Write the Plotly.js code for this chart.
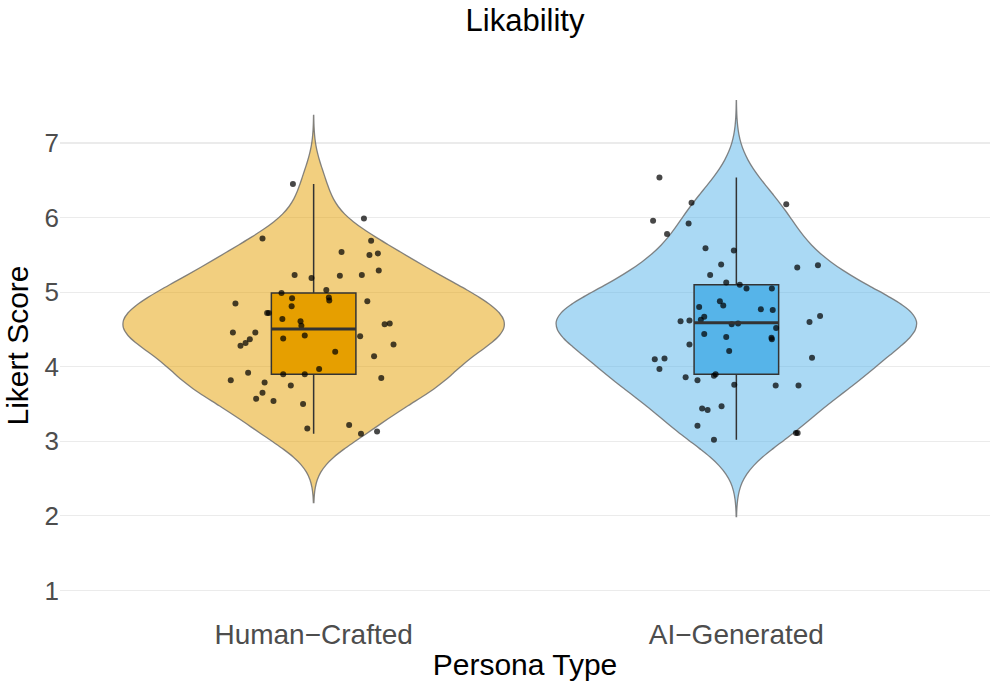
<!DOCTYPE html>
<html>
<head>
<meta charset="utf-8">
<script src="https://cdn.plot.ly/plotly-3.0.1.min.js"></script>
<style>html,body{margin:0;padding:0;background:#fff;}#chart{width:997px;height:687px;}</style>
</head>
<body>
<div id="chart"></div>
<script>
// Categories and tick labels
const categories = ["Human\u2212Crafted", "AI\u2212Generated"];
const yTicks = [1, 2, 3, 4, 5, 6, 7];

// Likert scores
const humanScores = [6.45, 5.99, 5.72, 5.69, 5.54, 5.50, 5.52, 5.29, 5.23, 5.19, 5.22, 5.23, 5.03, 4.99, 4.93, 4.92, 4.89, 4.88, 4.85, 4.81,
  4.72, 4.72, 4.64, 4.61, 4.55, 4.57, 4.58, 4.46, 4.46, 4.37, 4.32, 4.28, 4.42, 4.38, 4.41, 4.30, 4.20, 4.14, 3.97, 3.90,
  3.90, 3.92, 3.82, 3.79, 3.85, 3.75, 3.65, 3.57, 3.54, 3.50, 3.22, 3.17, 3.13, 3.10];
// Horizontal jitter of each point (category units)
const humanJitter = [-0.049, 0.119, -0.121, 0.136, 0.066, 0.132, 0.152, 0.154, -0.045, -0.005, 0.062, 0.114, 0.030, -0.076, 0.036, -0.051, 0.037, 0.127, -0.185, -0.052,
  -0.110, -0.106, -0.074, -0.031, -0.029, 0.168, 0.180, -0.191, -0.138, -0.151, -0.161, -0.173, -0.021, -0.072, 0.110, 0.189, 0.051, 0.143, 0.013, -0.072,
  -0.021, -0.155, -0.196, -0.116, 0.160, -0.054, -0.121, -0.136, -0.095, -0.025, 0.084, -0.015, 0.150, 0.112];

const aiScores = [6.54, 6.20, 6.18, 5.96, 5.92, 5.78, 5.59, 5.56, 5.37, 5.33, 5.36, 5.23, 5.13, 5.10, 5.05, 5.05, 4.80, 4.88, 4.82, 4.77,
  4.76, 4.67, 4.63, 4.61, 4.62, 4.57, 4.58, 4.60, 4.68, 4.52, 4.44, 4.40, 4.39, 4.37, 4.30, 4.21, 4.10, 4.11, 4.12, 3.97,
  3.88, 3.90, 3.86, 3.82, 3.76, 3.75, 3.75, 3.47, 3.44, 3.42, 3.21, 3.11, 3.11, 3.02];
const aiJitter = [-0.182, -0.106, 0.118, -0.197, -0.113, -0.164, -0.073, -0.006, -0.036, 0.144, 0.193, -0.062, -0.024, 0.008, 0.024, 0.084, -0.088, -0.039, -0.031, 0.058,
  0.086, -0.076, -0.084, -0.132, -0.111, -0.011, 0.004, 0.173, 0.198, 0.094, -0.076, -0.024, 0.083, 0.084, -0.111, -0.017, -0.193, -0.170, 0.179, -0.182,
  -0.053, -0.049, -0.120, -0.092, -0.005, 0.093, 0.147, -0.035, -0.081, -0.068, -0.092, 0.141, 0.145, -0.053];

const groups = [
  {name: categories[0], pos: 1, y: humanScores, jit: humanJitter, bw: 0.307, vwidth: 0.9,
   violinFill: "rgba(230,159,0,0.5)", boxFill: "#E69F00"},
  {name: categories[1], pos: 2, y: aiScores, jit: aiJitter, bw: 0.343, vwidth: 0.852,
   violinFill: "rgba(86,180,233,0.5)", boxFill: "#56B4E9"}
];

function median(arr) {
  const s = arr.slice().sort((a, b) => a - b);
  const p = (s.length - 1) * 0.5, lo = Math.floor(p), hi = Math.ceil(p);
  return s[lo] + (s[hi] - s[lo]) * (p - lo);
}

const traces = [];
const shapes = [];
groups.forEach(g => {
  const mn = Math.min(...g.y), mx = Math.max(...g.y);
  traces.push({
    type: "violin", x0: g.pos, y: g.y, name: g.name, width: g.vwidth,
    bandwidth: g.bw, spanmode: "manual", span: [mn - 3 * g.bw, mx + 3 * g.bw],
    scalemode: "width", points: false, box: {visible: false}, meanline: {visible: false},
    fillcolor: g.violinFill, line: {color: "rgba(110,110,110,0.85)", width: 1.3},
    hoverinfo: "skip", showlegend: false
  });
  traces.push({
    type: "box", x0: g.pos, y: g.y, name: g.name, width: 0.2, boxpoints: false,
    fillcolor: g.boxFill, line: {color: "#333333", width: 1.5}, whiskerwidth: 0,
    hoverinfo: "skip", showlegend: false
  });
  traces.push({
    type: "scatter", mode: "markers", x: g.jit.map(j => g.pos + j), y: g.y,
    marker: {color: "rgba(0,0,0,0.72)", size: 6}, hoverinfo: "skip", showlegend: false
  });
  const m = median(g.y);
  shapes.push({type: "line", xref: "x", yref: "y", x0: g.pos - 0.1, x1: g.pos + 0.1, y0: m, y1: m,
    line: {color: "#333333", width: 3}});
});

const font = "Liberation Sans, Arial, sans-serif";
const layout = {
  width: 997, height: 687,
  margin: {l: 60, r: 7, t: 76, b: 72, pad: 0},
  paper_bgcolor: "#ffffff", plot_bgcolor: "#ffffff",
  font: {family: font, color: "#000000"},
  violinmode: "overlay", boxmode: "overlay",
  title: {text: "Likability", font: {size: 31, family: font, color: "#000"}, x: 0.5, xref: "paper",
          y: 1 - 20 / 687, yref: "container", yanchor: "middle"},
  xaxis: {
    range: [0.4, 2.6], tickvals: [1, 2], ticktext: categories,
    showgrid: false, zeroline: false, showline: false, ticks: "",
    tickfont: {size: 28, color: "#4D4D4D", family: font},
    title: {text: "Persona Type", font: {size: 30, color: "#000", family: font}, standoff: 4}
  },
  yaxis: {
    range: [0.67, 7.9], tickvals: yTicks, ticktext: yTicks.map(String),
    showgrid: true, gridcolor: "#EBEBEB", gridwidth: 1.3, zeroline: false, showline: false, ticks: "",
    tickfont: {size: 26, color: "#4D4D4D", family: font},
    title: {text: "Likert Score", font: {size: 30, color: "#000", family: font}, standoff: 7}
  },
  shapes: shapes
};

Plotly.newPlot("chart", traces, layout, {displayModeBar: false, staticPlot: true});
</script>
</body>
</html>
